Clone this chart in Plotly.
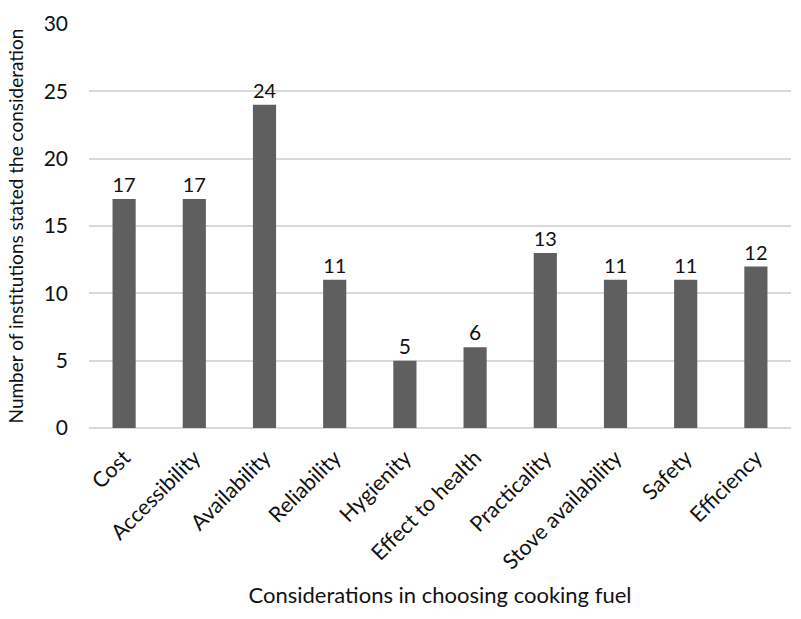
import plotly.graph_objects as go

# Survey results: reasons institutions gave when choosing a cooking fuel
considerations = [
    "Cost", "Accessibility", "Availability", "Reliability", "Hygienity",
    "Effect to health", "Practicality", "Stove availability", "Safety", "Efficiency",
]
institution_counts = [17, 17, 24, 11, 5, 6, 13, 11, 11, 12]

y_ticks = [0, 5, 10, 15, 20, 25, 30]

FONT = "Lato, Carlito, Calibri, sans-serif"
TEXT = "#111111"
GRID = "#d9d9d9"

fig = go.Figure(
    go.Bar(
        x=considerations,
        y=institution_counts,
        marker=dict(color="#5f5f5f", line=dict(width=0)),
        text=[str(v) for v in institution_counts],
        textposition="outside",
        textfont=dict(family=FONT, size=21, color=TEXT),
        cliponaxis=False,
    )
)

fig.update_layout(
    width=801,
    height=619,
    margin=dict(l=89, r=10, t=19, b=191),
    paper_bgcolor="white",
    plot_bgcolor="white",
    bargap=0.67,
    showlegend=False,
    font=dict(family=FONT, size=21, color=TEXT),
)

fig.update_xaxes(
    tickangle=-45,
    tickfont=dict(family=FONT, size=21.5, color=TEXT),
    ticklabelstandoff=12,
    showgrid=False,
    showline=False,
    ticks="",
    title=dict(
        text="Considerations in choosing cooking fuel",
        font=dict(family=FONT, size=22, color=TEXT),
        standoff=14,
    ),
)

fig.update_yaxes(
    range=[0, 30],
    tickvals=y_ticks,
    ticktext=[str(v) for v in y_ticks],
    tickfont=dict(family=FONT, size=21, color=TEXT),
    showgrid=True,
    gridcolor=GRID,
    gridwidth=1.5,
    zeroline=True,
    zerolinecolor=GRID,
    zerolinewidth=1.5,
    showline=False,
    ticks="",
    ticklabelstandoff=20,
    title=dict(
        text="Number of institutions stated the consideration",
        font=dict(family=FONT, size=19, color=TEXT),
        standoff=14,
    ),
)

fig.write_html("out.html")
